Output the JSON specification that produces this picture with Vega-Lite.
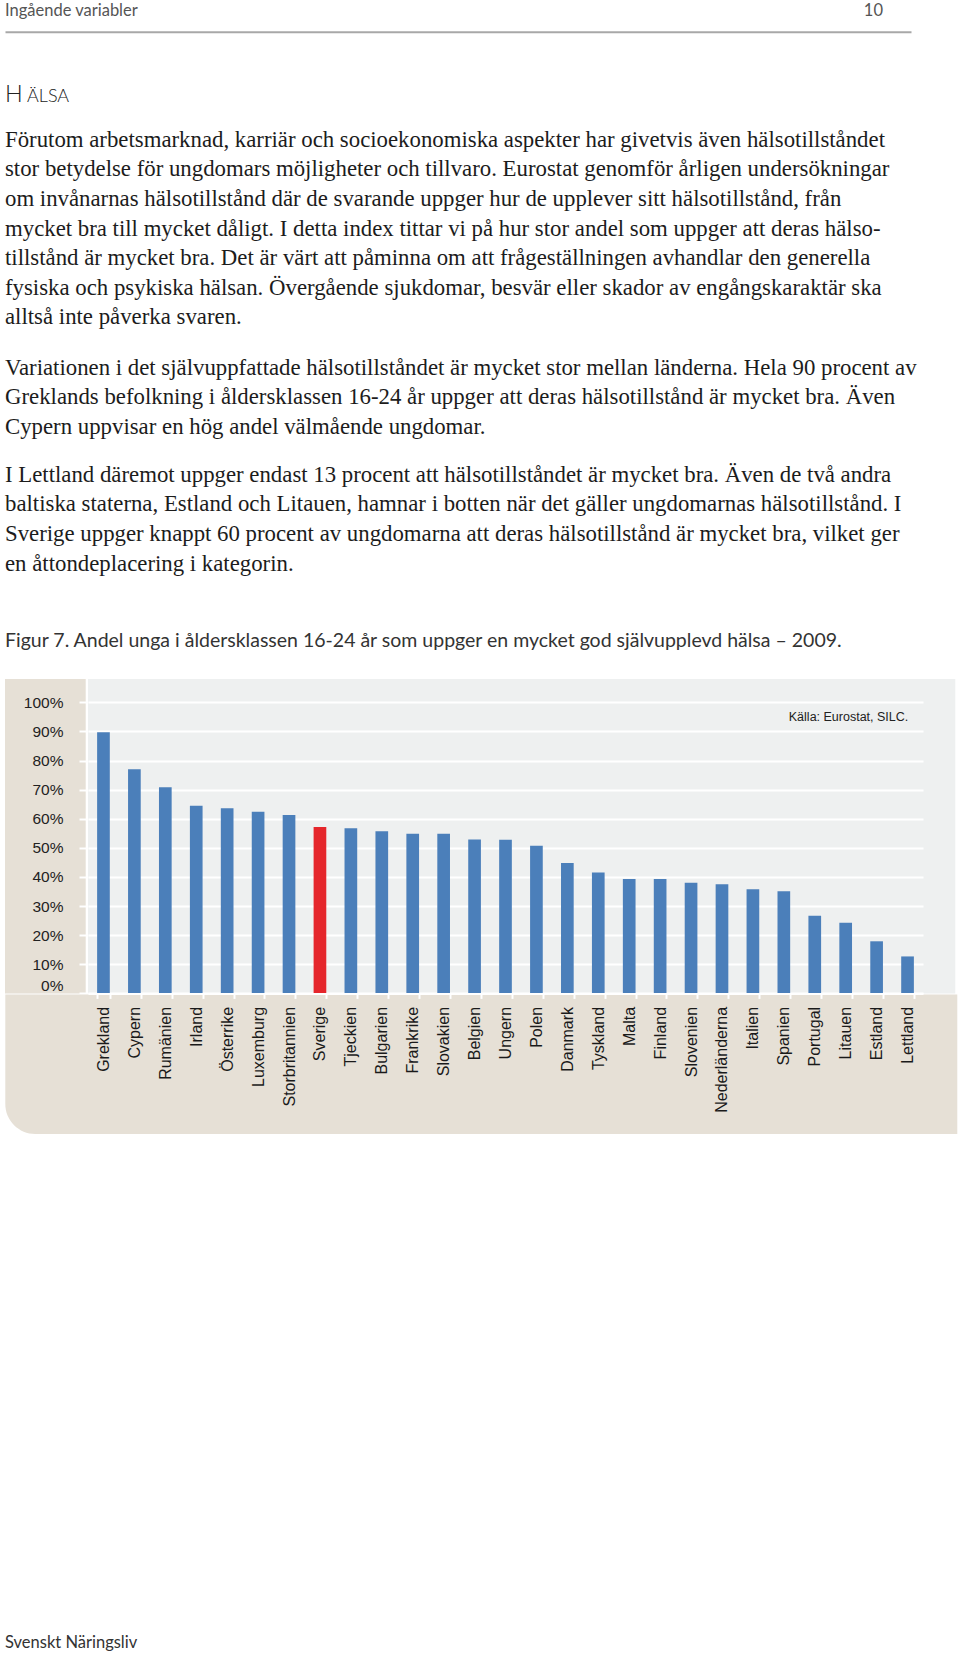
{
  "$schema": "https://vega.github.io/schema/vega-lite/v6.json",
  "background": "#ffffff",
  "padding": {"left": 5, "right": 0, "top": 0, "bottom": 0},
  "spacing": 0,
  "config": {"view": {"stroke": null}},
  "datasets": {
    "sidhuvud": [{"del": "Ingående variabler"}, {"del": "10"}],
    "rubrik": [{"ord": "Hälsa", "del": "H"}, {"ord": "Hälsa", "del": "ÄLSA"}],
    "brodtext": [
      {"stycke": "1", "rad": 1, "text": "Förutom arbetsmarknad, karriär och socioekonomiska aspekter har givetvis även hälsotillståndet"},
      {"stycke": "1", "rad": 2, "text": "stor betydelse för ungdomars möjligheter och tillvaro. Eurostat genomför årligen undersökningar"},
      {"stycke": "1", "rad": 3, "text": "om invånarnas hälsotillstånd där de svarande uppger hur de upplever sitt hälsotillstånd, från"},
      {"stycke": "1", "rad": 4, "text": "mycket bra till mycket dåligt. I detta index tittar vi på hur stor andel som uppger att deras hälso-"},
      {"stycke": "1", "rad": 5, "text": "tillstånd är mycket bra. Det är värt att påminna om att frågeställningen avhandlar den generella"},
      {"stycke": "1", "rad": 6, "text": "fysiska och psykiska hälsan. Övergående sjukdomar, besvär eller skador av engångskaraktär ska"},
      {"stycke": "1", "rad": 7, "text": "alltså inte påverka svaren."},
      {"stycke": "2", "rad": 1, "text": "Variationen i det självuppfattade hälsotillståndet är mycket stor mellan länderna. Hela 90 procent av"},
      {"stycke": "2", "rad": 2, "text": "Greklands befolkning i åldersklassen 16-24 år uppger att deras hälsotillstånd är mycket bra. Även"},
      {"stycke": "2", "rad": 3, "text": "Cypern uppvisar en hög andel välmående ungdomar."},
      {"stycke": "3", "rad": 1, "text": "I Lettland däremot uppger endast 13 procent att hälsotillståndet är mycket bra. Även de två andra"},
      {"stycke": "3", "rad": 2, "text": "baltiska staterna, Estland och Litauen, hamnar i botten när det gäller ungdomarnas hälsotillstånd. I"},
      {"stycke": "3", "rad": 3, "text": "Sverige uppger knappt 60 procent av ungdomarna att deras hälsotillstånd är mycket bra, vilket ger"},
      {"stycke": "3", "rad": 4, "text": "en åttondeplacering i kategorin."}
    ],
    "figurtext": [{"text": "Figur 7. Andel unga i åldersklassen 16-24 år som uppger en mycket god självupplevd hälsa – 2009."}],
    "andel": [
      {"land": "Grekland", "andel": 89.7},
      {"land": "Cypern", "andel": 77.0},
      {"land": "Rumänien", "andel": 70.8},
      {"land": "Irland", "andel": 64.5},
      {"land": "Österrike", "andel": 63.6},
      {"land": "Luxemburg", "andel": 62.4},
      {"land": "Storbritannien", "andel": 61.3},
      {"land": "Sverige", "andel": 57.2},
      {"land": "Tjeckien", "andel": 56.7},
      {"land": "Bulgarien", "andel": 55.7},
      {"land": "Frankrike", "andel": 54.8},
      {"land": "Slovakien", "andel": 54.8},
      {"land": "Belgien", "andel": 52.9},
      {"land": "Ungern", "andel": 52.8},
      {"land": "Polen", "andel": 50.7},
      {"land": "Danmark", "andel": 44.8},
      {"land": "Tyskland", "andel": 41.5},
      {"land": "Malta", "andel": 39.3},
      {"land": "Finland", "andel": 39.3},
      {"land": "Slovenien", "andel": 38.0},
      {"land": "Nederländerna", "andel": 37.5},
      {"land": "Italien", "andel": 35.8},
      {"land": "Spanien", "andel": 35.1},
      {"land": "Portugal", "andel": 26.7},
      {"land": "Litauen", "andel": 24.3},
      {"land": "Estland", "andel": 17.9},
      {"land": "Lettland", "andel": 12.7}
    ],
    "sidfot": [{"text": "Svenskt Näringsliv"}]
  },
  "vconcat": [
    {
      "width": 906,
      "height": 31.7,
      "data": {"name": "sidhuvud"},
      "encoding": {
        "x": {"field": "del", "type": "nominal", "scale": {"type": "point", "domain": ["Ingående variabler", "10"], "padding": 0.015945, "align": 0}, "axis": {"orient": "bottom", "title": null, "labels": false, "ticks": false, "grid": false, "domain": true, "domainColor": "#a8a8a8", "domainWidth": 2}},
        "text": {"field": "del"}
      },
      "layer": [
        {"transform": [{"filter": "datum.del !== '10'"}], "mark": {"type": "text", "align": "left", "baseline": "alphabetic", "font": "Lato", "fontSize": 16.5, "color": "#555555"}},
        {"transform": [{"filter": "datum.del === '10'"}], "mark": {"type": "text", "align": "right", "baseline": "alphabetic", "font": "Lato", "fontSize": 16.5, "color": "#555555"}}
      ]
    },
    {
      "width": 44,
      "height": 93.9,
      "data": {"name": "rubrik"},
      "encoding": {
        "x": {"field": "del", "type": "nominal", "scale": {"type": "point", "domain": ["H", "ÄLSA"], "padding": 0.5, "align": 0}, "axis": null},
        "y": {"field": "ord", "type": "nominal", "scale": {"type": "point", "align": 0.7455}, "axis": null},
        "text": {"field": "del"}
      },
      "layer": [
        {"transform": [{"filter": "datum.del === 'H'"}], "mark": {"type": "text", "align": "left", "baseline": "alphabetic", "font": "Lato", "fontWeight": 300, "fontSize": 23.5, "color": "#222222"}},
        {"transform": [{"filter": "datum.del !== 'H'"}], "mark": {"type": "text", "align": "left", "baseline": "alphabetic", "font": "Lato", "fontWeight": 300, "fontSize": 18, "color": "#222222"}}
      ]
    },
    {
      "width": 906,
      "height": 227.7,
      "data": {"name": "brodtext"},
      "transform": [{"filter": "datum.stycke === '1'"}],
      "mark": {"type": "text", "align": "left", "baseline": "alphabetic", "font": "Liberation Serif", "fontSize": 22.8, "color": "#1c1c1c"},
      "encoding": {
        "x": {"field": "stycke", "type": "nominal", "scale": {"type": "point", "align": 0}, "axis": null},
        "y": {"field": "rad", "type": "ordinal", "scale": {"type": "point", "padding": 0.8463, "align": 0.4132}, "axis": null},
        "text": {"field": "text"}
      }
    },
    {
      "width": 906,
      "height": 106.7,
      "data": {"name": "brodtext"},
      "transform": [{"filter": "datum.stycke === '2'"}],
      "mark": {"type": "text", "align": "left", "baseline": "alphabetic", "font": "Liberation Serif", "fontSize": 22.8, "color": "#1c1c1c"},
      "encoding": {
        "x": {"field": "stycke", "type": "nominal", "scale": {"type": "point", "align": 0}, "axis": null},
        "y": {"field": "rad", "type": "ordinal", "scale": {"type": "point", "padding": 0.8024, "align": 0.4358}, "axis": null},
        "text": {"field": "text"}
      }
    },
    {
      "width": 906,
      "height": 139,
      "data": {"name": "brodtext"},
      "transform": [{"filter": "datum.stycke === '3'"}],
      "mark": {"type": "text", "align": "left", "baseline": "alphabetic", "font": "Liberation Serif", "fontSize": 22.8, "color": "#1c1c1c"},
      "encoding": {
        "x": {"field": "stycke", "type": "nominal", "scale": {"type": "point", "align": 0}, "axis": null},
        "y": {"field": "rad", "type": "ordinal", "scale": {"type": "point", "padding": 0.848, "align": 0.4124}, "axis": null},
        "text": {"field": "text"}
      }
    },
    {
      "width": 906,
      "height": 79,
      "data": {"name": "figurtext"},
      "mark": {"type": "text", "align": "left", "baseline": "alphabetic", "font": "Lato", "fontSize": 19.5, "color": "#333333"},
      "encoding": {
        "x": {"field": "text", "type": "nominal", "scale": {"type": "point", "align": 0}, "axis": null},
        "y": {"field": "text", "type": "nominal", "scale": {"type": "point", "align": 0.5911}, "axis": null},
        "text": {"field": "text"}
      }
    },
    {
      "bounds": "flush",
      "spacing": 2,
      "hconcat": [
        {
          "width": 80.7,
          "height": 314.4,
          "data": {"values": [{}]},
          "mark": {"type": "rect", "color": "#e6e0d6"},
          "encoding": {
            "y": {"datum": 0, "type": "quantitative", "scale": {"domain": [0, 108], "nice": false},
              "axis": {"orient": "left", "offset": -80.7, "zindex": 1, "title": null, "values": [0, 10, 20, 30, 40, 50, 60, 70, 80, 90, 100], "labelExpr": "datum.value + '%'", "grid": false, "domain": false, "ticks": true, "tickColor": "#ffffff", "tickWidth": 2, "tickSize": 6.7, "labelPadding": 16, "labelFont": "Liberation Sans", "labelFontSize": 15.5, "labelColor": "#222222", "labelBaseline": {"condition": {"test": "datum.value === 0", "value": "bottom"}, "value": "middle"}}},
            "y2": {"datum": 108}
          }
        },
        {
          "width": 867.3,
          "height": 314.4,
          "view": {"fill": "#eef0f0", "stroke": null},
          "title": {"text": "Källa: Eurostat, SILC.", "orient": "top", "anchor": "end", "frame": "group", "offset": -44, "dx": -47, "font": "Liberation Sans", "fontSize": 12.5, "fontWeight": "normal", "color": "#222222"},
          "data": {"name": "andel"},
          "layer": [
            {
              "data": {"values": [{}]},
              "mark": {"type": "rect", "color": "#e6e0d6", "cornerRadiusBottomLeft": 30},
              "encoding": {
                "x": {"value": -82.7},
                "x2": {"value": 869.3},
                "y": {"value": 315.4},
                "y2": {"value": 455}
              }
            },
            {
              "mark": {"type": "bar"},
              "encoding": {
                "x": {"field": "land", "type": "nominal", "sort": null, "scale": {"range": [0, 835], "paddingInner": 0.59, "paddingOuter": 0.295},
                  "axis": {"orient": "bottom", "zindex": 1, "title": null, "domain": true, "domainColor": "#ffffff", "domainWidth": 2, "ticks": true, "tickColor": "#ffffff", "tickWidth": 2, "tickSize": 5, "tickBand": "extent", "labelAngle": -90, "labelPadding": 8, "labelFont": "Liberation Sans", "labelFontSize": 16, "labelColor": "#1a1a1a"}},
                "y": {"field": "andel", "type": "quantitative", "scale": {"domain": [0, 108], "nice": false},
                  "axis": {"orient": "left", "zindex": 0, "title": null, "values": [0, 10, 20, 30, 40, 50, 60, 70, 80, 90, 100], "grid": true, "gridColor": "#ffffff", "gridWidth": 2, "labels": false, "ticks": false, "domain": false}},
                "color": {"condition": {"test": "datum.land === 'Sverige'", "value": "#e5262b"}, "value": "#4b7fba"}
              }
            }
          ]
        }
      ]
    },
    {
      "width": 906,
      "height": 522,
      "data": {"name": "sidfot"},
      "mark": {"type": "text", "align": "left", "baseline": "alphabetic", "font": "Lato", "fontSize": 16.5, "color": "#333333"},
      "encoding": {
        "x": {"field": "text", "type": "nominal", "scale": {"type": "point", "align": 0}, "axis": null},
        "y": {"field": "text", "type": "nominal", "scale": {"type": "point", "align": 0.9852}, "axis": null},
        "text": {"field": "text"}
      }
    }
  ]
}
